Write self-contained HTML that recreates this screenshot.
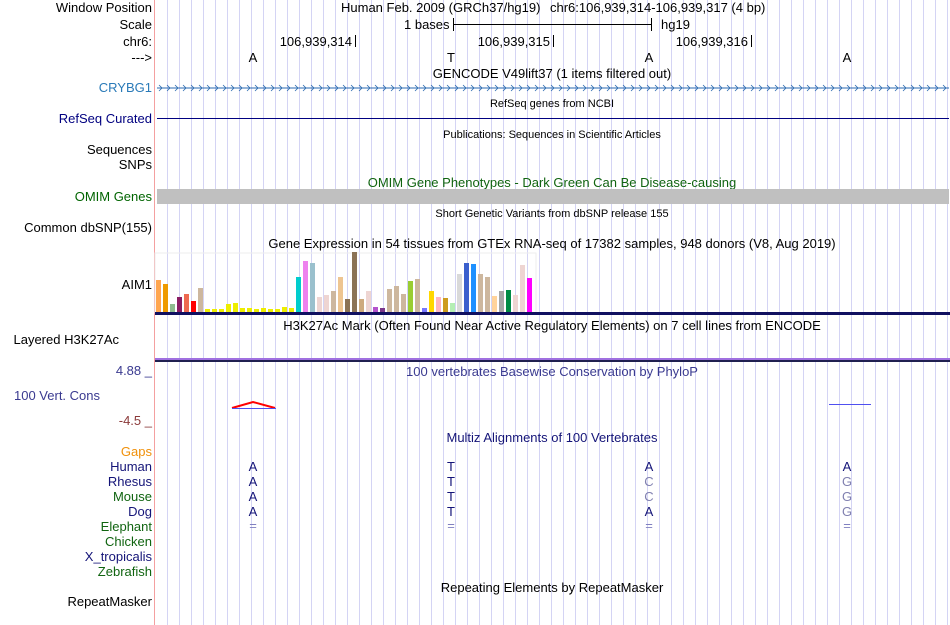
<!DOCTYPE html>
<html><head><meta charset="utf-8">
<style>
html,body{margin:0;padding:0;background:#fff;}
svg{display:block;font-family:"Liberation Sans",Arial,sans-serif;}
</style></head>
<body>
<svg id="c" width="950" height="625" viewBox="0 0 950 625">
<g id="grid"></g>
<line x1="154.5" y1="0" x2="154.5" y2="625" stroke="#f4a0a0"/>
<g font-size="13" fill="#000" text-anchor="end">
<text x="152" y="12">Window Position</text>
<text x="152" y="29">Scale</text>
<text x="152" y="46">chr6:</text>
<text x="152" y="62">---&gt;</text>
<text x="152" y="92" fill="#2a7ab8">CRYBG1</text>
<text x="152" y="123" fill="#000080">RefSeq Curated</text>
<text x="152" y="154">Sequences</text>
<text x="152" y="169">SNPs</text>
<text x="152" y="201" fill="#006400">OMIM Genes</text>
<text x="152" y="232">Common dbSNP(155)</text>
<text x="152" y="289">AIM1</text>
<text x="119" y="344">Layered H3K27Ac</text>
<text x="152" y="375" fill="#3a3a90">4.88 _</text>
<text x="100" y="400" fill="#3a3a90">100 Vert. Cons</text>
<text x="152" y="425" fill="#8b3a3a">-4.5 _</text>
<text x="152" y="456" fill="#f0900a">Gaps</text>
<text x="152" y="471" fill="#141478">Human</text>
<text x="152" y="486" fill="#141478">Rhesus</text>
<text x="152" y="501" fill="#106410">Mouse</text>
<text x="152" y="516" fill="#141478">Dog</text>
<text x="152" y="531" fill="#106410">Elephant</text>
<text x="152" y="546" fill="#106410">Chicken</text>
<text x="152" y="561" fill="#141478">X_tropicalis</text>
<text x="152" y="576" fill="#106410">Zebrafish</text>
<text x="152" y="606">RepeatMasker</text>
</g>
<g font-size="13" fill="#000">
<text x="341" y="12">Human Feb. 2009 (GRCh37/hg19)</text>
<text x="550" y="12">chr6:106,939,314-106,939,317 (4 bp)</text>
<text x="404" y="29">1 bases</text>
<line x1="453.5" y1="18" x2="453.5" y2="31" stroke="#000"/>
<line x1="453.5" y1="24.5" x2="651" y2="24.5" stroke="#000"/>
<line x1="651.5" y1="18" x2="651.5" y2="31" stroke="#000"/>
<text x="661" y="29">hg19</text>
<text x="352" y="46" text-anchor="end">106,939,314</text>
<line x1="355.5" y1="35" x2="355.5" y2="47" stroke="#000"/>
<text x="550" y="46" text-anchor="end">106,939,315</text>
<line x1="553.5" y1="35" x2="553.5" y2="47" stroke="#000"/>
<text x="748" y="46" text-anchor="end">106,939,316</text>
<line x1="751.5" y1="35" x2="751.5" y2="47" stroke="#000"/>
<g text-anchor="middle">
<text x="253" y="62">A</text><text x="451" y="62">T</text><text x="649" y="62">A</text><text x="847" y="62">A</text>
</g>
</g>
<g font-size="13" text-anchor="middle">
<text x="552" y="78">GENCODE V49lift37 (1 items filtered out)</text>
<text x="552" y="107" font-size="11">RefSeq genes from NCBI</text>
<text x="552" y="138" font-size="11">Publications: Sequences in Scientific Articles</text>
<text x="552" y="187" fill="#106410">OMIM Gene Phenotypes - Dark Green Can Be Disease-causing</text>
<text x="552" y="217" font-size="11">Short Genetic Variants from dbSNP release 155</text>
<text x="552" y="248">Gene Expression in 54 tissues from GTEx RNA-seq of 17382 samples, 948 donors (V8, Aug 2019)</text>
<text x="552" y="330">H3K27Ac Mark (Often Found Near Active Regulatory Elements) on 7 cell lines from ENCODE</text>
<text x="552" y="376" fill="#3a3a90">100 vertebrates Basewise Conservation by PhyloP</text>
<text x="552" y="442" fill="#141478">Multiz Alignments of 100 Vertebrates</text>
<text x="552" y="592">Repeating Elements by RepeatMasker</text>
</g>
<line x1="157" y1="88" x2="949" y2="88" stroke="#2a6ab0"/>
<g id="chev" stroke="#2a6ab0" stroke-width="0.8" fill="none"></g>
<line x1="157" y1="118.5" x2="949" y2="118.5" stroke="#000080"/>
<rect x="157" y="189" width="792" height="15" fill="#c0c0c0"/>
<rect x="155" y="253" width="381" height="60" fill="none" stroke="#eee"/>
<g id="bars"></g>
<rect x="155" y="312" width="795" height="3" fill="#101060"/>
<rect x="155" y="358" width="795" height="2" fill="#a070e0"/>
<rect x="155" y="360" width="795" height="2" fill="#202050"/>
<path d="M232,408 L253,402 L275,408" fill="none" stroke="#f00" stroke-width="2"/>
<line x1="232" y1="408.5" x2="276" y2="408.5" stroke="#5050f0"/>
<line x1="829" y1="404.5" x2="871" y2="404.5" stroke="#5050f0"/>
<g font-size="13" text-anchor="middle">
<g fill="#141478"><text x="253" y="471">A</text><text x="451" y="471">T</text><text x="649" y="471">A</text><text x="847" y="471">A</text></g>
<g fill="#141478"><text x="253" y="486">A</text><text x="451" y="486">T</text><text x="649" y="486" fill="#8080b0">C</text><text x="847" y="486" fill="#8080b0">G</text></g>
<g fill="#141478"><text x="253" y="501">A</text><text x="451" y="501">T</text><text x="649" y="501" fill="#8080b0">C</text><text x="847" y="501" fill="#8080b0">G</text></g>
<g fill="#141478"><text x="253" y="516">A</text><text x="451" y="516">T</text><text x="649" y="516">A</text><text x="847" y="516" fill="#8080b0">G</text></g>
<g fill="#8080c0"><text x="253" y="530">=</text><text x="451" y="530">=</text><text x="649" y="530">=</text><text x="847" y="530">=</text></g>
</g>
</svg>
<script>
const tissueValues=[32,28,8,15,18,11,24,3,3,3,8,9,4,4,3,4,3,3,5,4,35,51,49,15,17,21,35,13,60,13,21,5,4,23,26,18,31,33,4,21,15,14,9,38,49,48,38,35,16,21,22,17,47,34];
const tissueColors=["#ffa54f","#ee9a00","#8fbc8f","#8b1c62","#ee6a50","#ff0000","#cdb79e","#eeee00","#eeee00","#eeee00","#eeee00","#eeee00","#eeee00","#eeee00","#eeee00","#eeee00","#eeee00","#eeee00","#eeee00","#eeee00","#00cdcd","#ee82ee","#9ac0cd","#eed5d2","#eed5d2","#cdb79e","#eec591","#8b7355","#8b7355","#cdaa7d","#eed5d2","#b452cd","#7a378b","#cdb79e","#cdb79e","#cdb79e","#9acd32","#cdb79e","#7777ff","#ffd700","#ffb6c1","#cd9b1d","#b4eeb4","#d9d9d9","#3a5fcd","#1e90ff","#cdb79e","#cdb79e","#ffd39b","#a6a6a6","#008b45","#eed5d2","#eed5d2","#ff00ff"];
const NS="http://www.w3.org/2000/svg";
const grid=document.getElementById('grid');
for(let x=167;x<950;x+=12){
  const l=document.createElementNS(NS,'line');
  l.setAttribute('x1',x+.5);l.setAttribute('x2',x+.5);l.setAttribute('y1',0);l.setAttribute('y2',625);
  l.setAttribute('stroke','#d4d4f4');
  
  
  grid.appendChild(l);
}
const chev=document.getElementById('chev');
let d='';for(let x=159;x<946;x+=8){d+=`M${x},85 L${x+3},88 L${x},91 `;}
const p=document.createElementNS(NS,'path');p.setAttribute('d',d);


chev.appendChild(p);
const base=312,maxV=60,maxH=60,x0=156,pitch=7;
const yScale=v=>v/maxV*maxH;
const bars=document.getElementById('bars');
tissueValues.forEach((v,i)=>{
  const r=document.createElementNS(NS,'rect');
  const h=yScale(v);
  r.setAttribute('x',x0+i*pitch);r.setAttribute('width',5);
  r.setAttribute('y',base-h);r.setAttribute('height',h);
  r.setAttribute('fill',tissueColors[i]);
  
  
  bars.appendChild(r);
});
</script>
</body></html>
